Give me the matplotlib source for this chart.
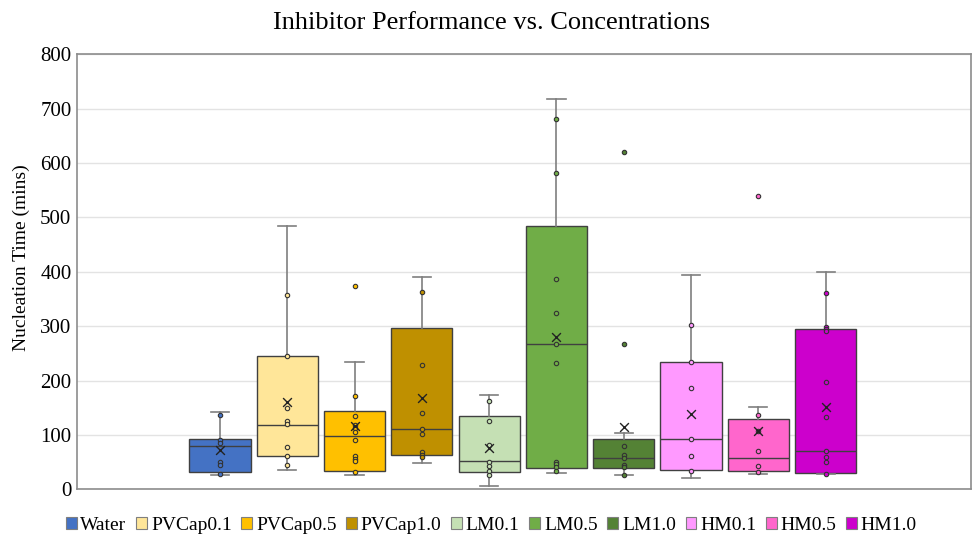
import matplotlib
matplotlib.use("Agg")
import matplotlib.pyplot as plt
from matplotlib.patches import Patch

plt.rcParams['font.family'] = ['Liberation Serif', 'DejaVu Serif']

# Inhibitor groups
labels = ["Water", "PVCap0.1", "PVCap0.5", "PVCap1.0", "LM0.1",
          "LM0.5", "LM1.0", "HM0.1", "HM0.5", "HM1.0"]
colors = ["#4472C4", "#FFE699", "#FFC000", "#BF9000", "#C5E0B4",
          "#70AD47", "#548235", "#FF99FF", "#FF66CC", "#CC00CC"]

# Box statistics (minutes)
q1 = [31, 61, 33, 64, 31, 39, 40, 36, 34, 30]
medians = [79, 119, 98, 111, 52, 268, 57, 93, 58, 70]
q3 = [93, 246, 144, 296, 135, 484, 93, 234, 129, 295]
whisker_low = [26, 36, 26, 48, 7, 30, 27, 21, 28, 28]
whisker_high = [142, 485, 234, 390, 173, 718, 103, 395, 151, 399]
means = [73, 161, 117, 167, 76, 281, 115, 138, 108, 152]

# Individual nucleation times
water_pts = [136, 90, 85, 50, 44, 29]
pvcap01_pts = [357, 245, 149, 125, 121, 78, 61, 44]
pvcap05_pts = [374, 172, 135, 119, 112, 106, 90, 61, 56, 52, 31]
pvcap10_pts = [363, 229, 141, 110, 101, 69, 64, 60]
lm01_pts = [163, 125, 82, 50, 42, 33, 26]
lm05_pts = [681, 581, 387, 325, 268, 232, 50, 46, 41, 34]
lm10_pts = [620, 268, 80, 64, 58, 44, 41, 27]
hm01_pts = [302, 234, 187, 93, 62, 33]
hm05_pts = [540, 137, 108, 70, 43, 31]
hm10_pts = [361, 299, 295, 292, 198, 133, 70, 59, 50, 28]
points = [water_pts, pvcap01_pts, pvcap05_pts, pvcap10_pts, lm01_pts,
          lm05_pts, lm10_pts, hm01_pts, hm05_pts, hm10_pts]

yticks = [0, 100, 200, 300, 400, 500, 600, 700, 800]

fig = plt.figure(figsize=(9.73, 5.38), dpi=100)
ax = fig.add_axes([0.0791, 0.0905, 0.9188, 0.8086])

positions = list(range(len(labels)))
stats = []
for i, lab in enumerate(labels):
    stats.append(dict(label=lab, q1=q1[i], med=medians[i], q3=q3[i],
                      whislo=whisker_low[i], whishi=whisker_high[i],
                      mean=means[i], fliers=[]))

bp = ax.bxp(stats, positions=positions, widths=0.91, patch_artist=True,
            showmeans=False, showfliers=False,
            boxprops=dict(edgecolor="#404040", linewidth=1.0),
            medianprops=dict(color="#404040", linewidth=1.0),
            whiskerprops=dict(color="#7F7F7F", linewidth=1.2),
            capprops=dict(color="#7F7F7F", linewidth=1.2),
            capwidths=0.27, zorder=3)
for patch, c in zip(bp['boxes'], colors):
    patch.set_facecolor(c)

for i, pts in enumerate(points):
    ax.scatter([positions[i]] * len(pts), pts, s=10, marker='o',
               facecolor=colors[i], edgecolor="#333333", linewidths=0.8,
               zorder=5)
    ax.scatter([positions[i]], [means[i]], s=40, marker='x',
               color="#222222", linewidths=1.0, zorder=6)

ax.set_xlim(-2.125, 11.16)
ax.set_ylim(0, 800)
ax.set_yticks(yticks)
ax.set_xticks([])
ax.tick_params(axis='y', length=0, labelsize=15, pad=4)
ax.yaxis.grid(True, color="#E3E3E3", linewidth=1.0)
ax.set_axisbelow(True)
for s in ax.spines.values():
    s.set_color("#8C8C8C")
    s.set_linewidth(1.2)

ax.set_ylabel("Nucleation Time (mins)", fontsize=14, va='center')
ax.yaxis.set_label_coords(-0.062, 0.532)
fig.text(0.505, 0.957, "Inhibitor Performance vs. Concentrations",
         ha='center', va='center', fontsize=19)

handles = [Patch(facecolor=c, edgecolor="#7F7F7F", linewidth=0.8, label=l)
           for c, l in zip(colors, labels)]
fig.legend(handles=handles, loc='center', bbox_to_anchor=(0.505, 0.024),
           ncol=10, frameon=False, fontsize=14, handlelength=0.55,
           handleheight=0.55, handletextpad=0.2, columnspacing=0.5,
           borderaxespad=0)

fig.savefig("out.png", dpi=100)
